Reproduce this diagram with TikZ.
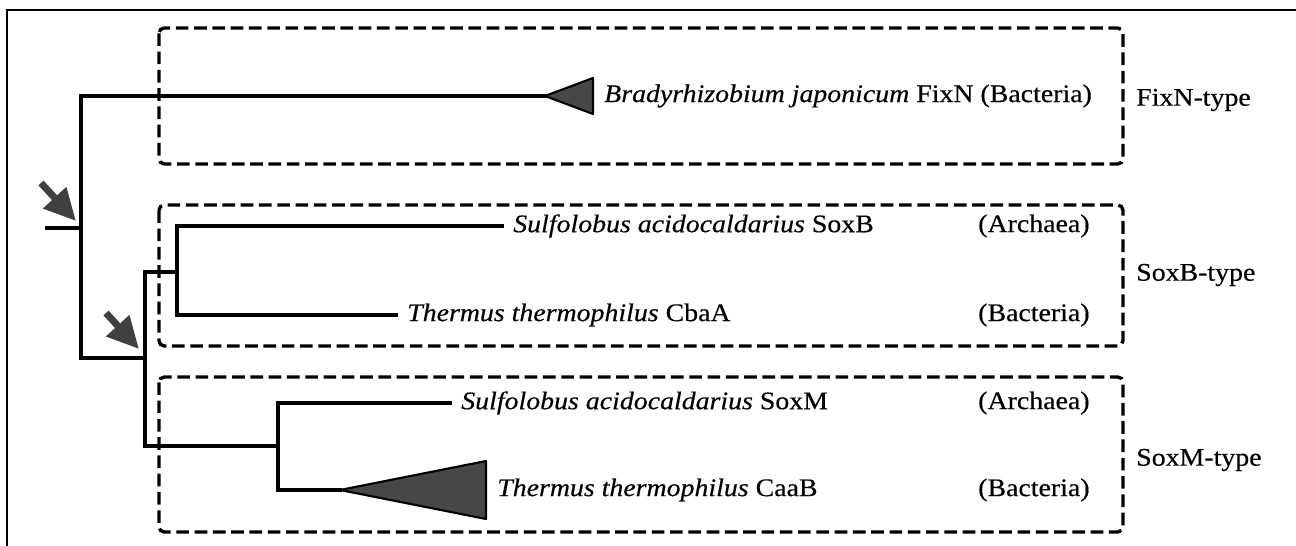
\documentclass[tikz,border=0pt]{standalone}
\usepackage{fontspec}
\setmainfont[FakeStretch=1.1, FakeBold=0.4]{Liberation Serif}
\usetikzlibrary{arrows.meta}

\tikzset{
  branch/.style={line width=1.05pt, line cap=rect},
  grpbox/.style={line width=0.95pt, dash pattern=on 3.6pt off 1.6pt, rounded corners=1.5pt},
  leaf/.style={anchor=west, inner sep=3pt},
  clade/.style={fill=black!72, draw=black, line width=0.6pt, line join=round},
  ptr/.style={draw=black!75, line width=2pt, -{Triangle[length=9pt,width=8.5pt]}}
}

\begin{document}
\begin{tikzpicture}[x=0.01cm, y=-0.01cm, every node/.style={font=\fontsize{7.2}{8.6}\selectfont}]
    \useasboundingbox (0,0) rectangle (1296,546);
    \draw[line width=0.5pt] (7,546) -- (7,10) -- (1296,10);
    \foreach \t/\b/\y/\n in {28/164/100/FixN, 205/346/275/SoxB, 377/532/460/SoxM}{
        \draw[grpbox] (159,\t) rectangle (1123,\b);
        \node[leaf] (\n-type) at (1125,\y) {\n-type};
    }
    \node[leaf] (fixn) at (593,96) {\textit{Bradyrhizobium japonicum} FixN (Bacteria)};
    \node[leaf] (soxb) at (502,226) {\textit{Sulfolobus acidocaldarius} SoxB};
    \node[leaf] (cbaa) at (396,315) {\textit{Thermus thermophilus} CbaA};
    \node[leaf] (soxm) at (450,403) {\textit{Sulfolobus acidocaldarius} SoxM};
    \node[leaf] (caab) at (486,490) {\textit{Thermus thermophilus} CaaB};
    \node[leaf] (arch1) at (967,226) {(Archaea)};
    \node[leaf] (bact1) at (967,315) {(Bacteria)};
    \node[leaf] (arch2) at (967,403) {(Archaea)};
    \node[leaf] (bact2) at (967,490) {(Bacteria)};
    \coordinate (root) at (47,228);
    \coordinate (n1) at (81,228);
    \coordinate (n2) at (145,358);
    \coordinate (n3) at (177,272);
    \coordinate (n4) at (278,446);
    \coordinate (fixtip) at (545,96);
    \coordinate (caatip) at (340,490);
    \draw[branch] (root) -- (n1);
    \draw[branch] (fixtip) -| (n1) |- (n2);
    \draw[branch] (soxb.west) -| (n3) |- (cbaa.west);
    \draw[branch] (n3) -| (n2) |- (n4);
    \draw[branch] (soxm.west) -| (n4) |- (caatip);
    \filldraw[clade] (fixtip) -- ([shift={(0,-18)}]fixn.west) -- ([shift={(0,18)}]fixn.west) -- cycle;
    \filldraw[clade] (caatip) -- ([shift={(0,-29)}]caab.west) -- ([shift={(0,29)}]caab.west) -- cycle;
    \draw[ptr] ([shift={(-40,-45)}]n1) -- ([shift={(-5,-7)}]n1);
    \draw[ptr] ([shift={(-39,-45)}]n2) -- ([shift={(-6,-9)}]n2);
\end{tikzpicture}
\end{document}
